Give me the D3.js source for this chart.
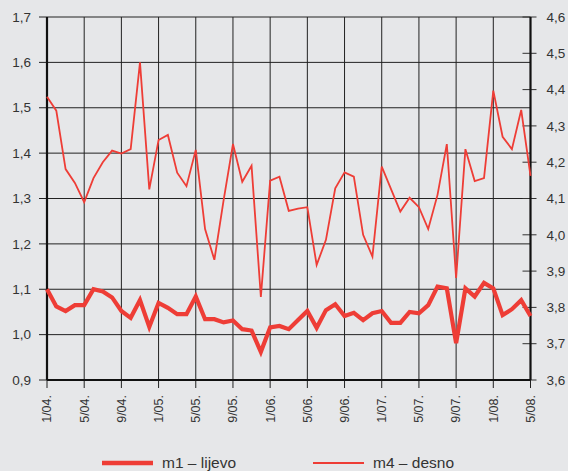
<!DOCTYPE html>
<html>
<head>
<meta charset="utf-8">
<script src="https://cdn.jsdelivr.net/npm/d3@7"></script>
<style>
  html, body { margin: 0; padding: 0; background: #e6e7e9; }
  svg { display: block; font-family: "Liberation Sans", Arial, sans-serif; }
</style>
</head>
<body>
<svg width="568" height="471"></svg>
<script>
// monthly data, 1/2004 - 5/2008
var m1 = [
  1.100, 1.062, 1.052, 1.065, 1.065, 1.100, 1.095, 1.082, 1.052, 1.037,
  1.076, 1.017, 1.070, 1.059, 1.045, 1.045, 1.084, 1.034, 1.034, 1.027,
  1.031, 1.012, 1.009, 0.962, 1.016, 1.019, 1.012, 1.032, 1.052, 1.015,
  1.054, 1.067, 1.041, 1.048, 1.032, 1.047, 1.052, 1.026, 1.026, 1.050,
  1.047, 1.065, 1.106, 1.102, 0.981, 1.102, 1.084, 1.114, 1.102, 1.043,
  1.056, 1.076, 1.041
];
var m4 = [
  4.380, 4.342, 4.181, 4.143, 4.090, 4.156, 4.200, 4.232, 4.224, 4.236,
  4.475, 4.125, 4.261, 4.275, 4.171, 4.134, 4.234, 4.016, 3.931, 4.096,
  4.250, 4.146, 4.190, 3.829, 4.149, 4.160, 4.066, 4.072, 4.076, 3.917,
  3.986, 4.128, 4.172, 4.160, 4.000, 3.940, 4.188, 4.126, 4.064, 4.102,
  4.076, 4.016, 4.110, 4.250, 3.881, 4.236, 4.148, 4.156, 4.397, 4.270,
  4.236, 4.344, 4.162
];
var tickLabels = ['1/04.', '5/04.', '9/04.', '1/05.', '5/05.', '9/05.', '1/06.',
  '5/06.', '9/06.', '1/07.', '5/07.', '9/07.', '1/08.', '5/08.'];
var leftTicks = [0.9, 1.0, 1.1, 1.2, 1.3, 1.4, 1.5, 1.6, 1.7];
var rightTicks = [3.6, 3.7, 3.8, 3.9, 4.0, 4.1, 4.2, 4.3, 4.4, 4.5, 4.6];
var names = ['m1 – lijevo', 'm4 – desno'];

const svg = d3.select('svg');
const red = '#ee3d36';
const ink = '#333';
const fmt = v => d3.format('.1f')(v).replace('.', ',');

const x = d3.scaleLinear().domain([0, m1.length - 1]).range([47, 530.5]);
const yL = d3.scaleLinear().domain([0.9, 1.7]).range([380, 17]);
const yR = d3.scaleLinear().domain([3.6, 4.6]).range([380, 17]);
const yTop = yL.range()[1], yBot = yL.range()[0];
const xLeft = x.range()[0], xRight = x.range()[1];

// grid
const grid = svg.append('g').attr('stroke', '#222').attr('stroke-width', 1);
grid.selectAll('.h').data(leftTicks).join('line')
  .attr('x1', xLeft - 8).attr('x2', xRight)
  .attr('y1', d => yL(d)).attr('y2', d => yL(d));
grid.selectAll('.v').data(tickLabels).join('line')
  .attr('x1', (d, i) => x(i * 4)).attr('x2', (d, i) => x(i * 4))
  .attr('y1', yTop).attr('y2', yBot + 8);

// left labels
svg.append('g').attr('font-size', 13.5).attr('fill', ink).attr('text-anchor', 'end')
  .selectAll('text').data(leftTicks).join('text')
  .attr('x', 31).attr('y', d => yL(d)).attr('dy', '0.35em')
  .text(fmt);

// right ticks + labels
const rg = svg.append('g');
rg.selectAll('line').data(rightTicks).join('line')
  .attr('x1', xRight - 8).attr('x2', xRight + 6)
  .attr('y1', d => yR(d)).attr('y2', d => yR(d))
  .attr('stroke', ink).attr('stroke-width', 1);
rg.selectAll('text').data(rightTicks).join('text')
  .attr('font-size', 13.5).attr('fill', ink)
  .attr('x', xRight + 16).attr('y', d => yR(d)).attr('dy', '0.35em')
  .text(fmt);

// x labels
svg.append('g').attr('font-size', 12.5).attr('fill', ink).attr('text-anchor', 'end')
  .selectAll('text').data(tickLabels).join('text')
  .attr('transform', (d, i) => `translate(${x(i * 4)},395) rotate(-90)`)
  .attr('dy', '0.35em')
  .text(d => d);

// spines
const sp = svg.append('g').attr('stroke', '#111').attr('stroke-width', 2.2).attr('fill', 'none');
sp.append('line').attr('x1', xLeft).attr('x2', xLeft).attr('y1', yTop).attr('y2', yBot);
sp.append('line').attr('x1', xLeft).attr('x2', xRight).attr('y1', yBot).attr('y2', yBot);
sp.append('line').attr('x1', xRight).attr('x2', xRight).attr('y1', yTop).attr('y2', yBot);

// lines
const lineL = d3.line().x((d, i) => x(i)).y(d => yL(d));
const lineR = d3.line().x((d, i) => x(i)).y(d => yR(d));
svg.append('path').datum(m4).attr('d', lineR)
  .attr('fill', 'none').attr('stroke', red).attr('stroke-width', 1.8);
svg.append('path').datum(m1).attr('d', lineL)
  .attr('fill', 'none').attr('stroke', red).attr('stroke-width', 4.2);

// legend
const lg = svg.append('g').attr('font-size', 15.5).attr('fill', ink);
const lx = [102, 313];
lg.selectAll('line').data(names).join('line')
  .attr('x1', (d, i) => lx[i]).attr('x2', (d, i) => lx[i] + 51)
  .attr('y1', 463).attr('y2', 463)
  .attr('stroke', red).attr('stroke-width', (d, i) => i ? 2 : 4.5);
lg.selectAll('text').data(names).join('text')
  .attr('x', (d, i) => lx[i] + 60).attr('y', 463).attr('dy', '0.35em')
  .text(d => d);
</script>
</body>
</html>
